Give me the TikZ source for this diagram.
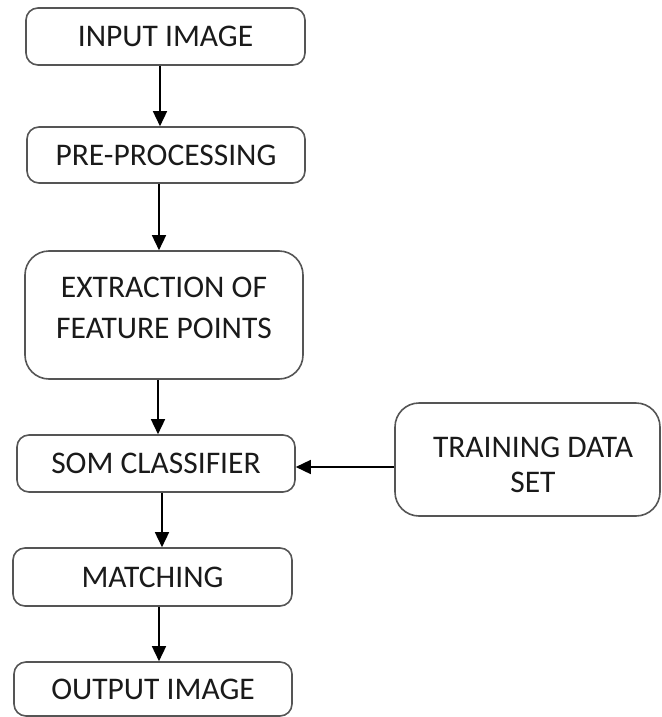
\documentclass[tikz,border=0pt]{standalone}
\usepackage{fontspec}
\setmainfont{Carlito}
\usetikzlibrary{arrows.meta}
\definecolor{edge}{HTML}{555555}
\definecolor{txt}{HTML}{1A1A1A}
\tikzset{
  box/.style={draw=edge, line width=1.6pt, rounded corners=12pt, inner sep=0pt,
    text=txt, font=\fontsize{31.5}{38}\selectfont, align=center},
  bigbox/.style={box, rounded corners=24pt},
  lbl/.style={text=txt, align=center},
  arr/.style={line width=1.5pt, black, -{Triangle[length=15pt,width=14pt]}}
}
\begin{document}
\begin{tikzpicture}[x=1pt,y=-1pt]
\path[use as bounding box] (0,0) rectangle (661,717);
\node[box, minimum width=279pt, minimum height=57pt] (in) at (165.5,36.5) {INPUT IMAGE};
\node[box, minimum width=278pt, minimum height=56pt] (pre) at (166,155) {PRE-PROCESSING};
\node[bigbox, minimum width=278pt, minimum height=128pt] (ext) at (164,315) {};
\node[lbl, font=\fontsize{31.5}{41}\selectfont] (extt) at (164,307.5) {EXTRACTION OF\\FEATURE POINTS};
\node[box, minimum width=278pt, minimum height=57pt] (som) at (156,463.5) {SOM CLASSIFIER};
\node[box, minimum width=279pt, minimum height=58pt] (match) at (152.5,577) {MATCHING};
\node[box, minimum width=278pt, minimum height=54pt] (out) at (153,689) {OUTPUT IMAGE};
\node[bigbox, minimum width=265pt, minimum height=113pt] (train) at (527.5,459.5) {};
\node[lbl, font=\fontsize{31.5}{35}\selectfont] (traint) at (533,464.5) {TRAINING DATA\\SET};
\coordinate (c1) at (160,0);
\coordinate (c2) at (159,0);
\coordinate (c3) at (158,0);
\coordinate (c4) at (162,0);
\coordinate (c5) at (159,0);
\coordinate (hy) at (0,467);
\draw[arr] (in.south -| c1) -- (pre.north -| c1);
\draw[arr] (pre.south -| c2) -- (ext.north -| c2);
\draw[arr] (ext.south -| c3) -- (som.north -| c3);
\draw[arr] (som.south -| c4) -- (match.north -| c4);
\draw[arr] (match.south -| c5) -- (out.north -| c5);
\draw[arr] (train.west |- hy) -- (som.east |- hy);
\end{tikzpicture}
\end{document}
